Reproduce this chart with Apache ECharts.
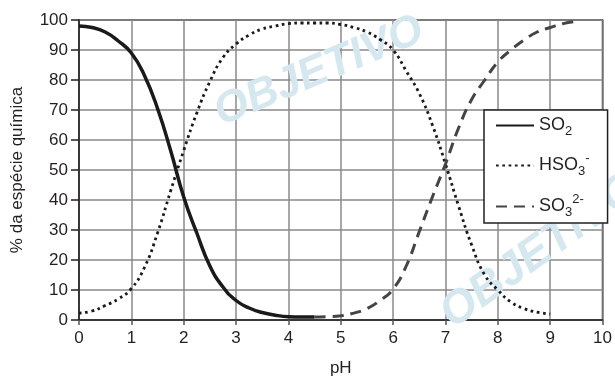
<!doctype html>
<html>
<head>
<meta charset="utf-8">
<title>Espécies de SO2 em função do pH</title>
<script src="https://cdn.jsdelivr.net/npm/echarts@6/dist/echarts.min.js"></script>
<style>
html, body { margin: 0; padding: 0; background: #fff; }
</style>
</head>
<body>
<div id="main" style="width:615px;height:382px;"></div>
<script>
// dados (pH x % da espécie)
var phSO2 = [0, 0.25, 0.5, 0.75, 1, 1.25, 1.5, 1.75, 2, 2.25, 2.5, 2.75, 3, 3.25, 3.5, 3.75, 4, 4.25, 4.5];
var pctSO2 = [98, 97.5, 96, 93, 89, 81.5, 70.5, 56.5, 41, 29, 18, 11, 6.5, 4, 2.5, 1.6, 1.1, 1, 1];

var phHSO3 = [0, 0.25, 0.5, 0.75, 1, 1.25, 1.5, 1.75, 2, 2.25, 2.5, 2.75, 3, 3.25, 3.5, 3.75, 4, 4.25, 4.5,
              4.75, 5, 5.25, 5.5, 5.75, 6, 6.25, 6.5, 6.75, 7, 7.25, 7.5, 7.75, 8, 8.25, 8.5, 8.75, 9];
var pctHSO3 = [2.3, 3, 4.8, 7, 10.5, 17.5, 29, 43, 56.5, 69, 79.5, 87.5, 92, 95, 97, 98, 98.8, 99, 99,
               99, 98.5, 97.5, 96, 93.5, 90, 83, 75.5, 65, 52, 38, 25, 15, 10, 6, 3.8, 2.6, 2];

var phSO3 = [4.5, 4.75, 5, 5.25, 5.5, 5.75, 6, 6.25, 6.5, 6.75, 7, 7.25, 7.5, 7.75, 8, 8.25, 8.5, 8.75, 9, 9.25, 9.5];
var pctSO3 = [1, 1.1, 1.4, 2.3, 3.8, 6.5, 10.3, 18, 29.5, 41, 52, 64, 73.5, 80, 86, 90, 93.3, 96, 97.5, 98.8, 99.5];

var seriesNames = ['SO2', 'HSO3-', 'SO32-'];
var xTicks = [0, 1, 2, 3, 4, 5, 6, 7, 8, 9, 10];

function pares(xs, ys) {
    return xs.map(function (x, i) { return [x, ys[i]]; });
}

var fonte = 'Liberation Sans, Arial, sans-serif';
var corTexto = '#231f20';

var myChart = echarts.init(document.getElementById('main'), null, { renderer: 'canvas' });

var option = {
    animation: false,
    backgroundColor: '#fff',
    textStyle: { fontFamily: fonte },
    grid: {
        left: 79, right: 9, top: 20, bottom: 59,
        show: true, borderColor: '#231f20', borderWidth: 1.5
    },
    graphic: [
        // marca d'água
        {
            type: 'text', left: 208, top: 8, rotation: 0.40, z: 1,
            style: { text: 'OBJETIVO', fill: '#d6e8ef', font: 'bold italic 44px ' + fonte }
        },
        {
            type: 'text', left: 432, top: 165, rotation: 0.62, z: 1,
            style: { text: 'OBJETIVO', fill: '#d6e8ef', font: 'bold italic 46px ' + fonte }
        }
    ],
    legend: {
        orient: 'vertical',
        left: 484, top: 110,
        padding: [3, 18, 3, 11],
        itemGap: 14,
        itemWidth: 38, itemHeight: 14,
        backgroundColor: '#fff',
        borderColor: '#231f20', borderWidth: 1.5,
        itemStyle: { opacity: 0 },
        z: 10,
        data: seriesNames,
        formatter: function (name) {
            if (name === 'SO2') return '{m|SO}{s|2}';
            if (name === 'HSO3-') return '{m|HSO}{s|3}{p|-}';
            return '{m|SO}{s|3}{p|2-}';
        },
        textStyle: {
            color: corTexto,
            fontFamily: fonte,
            rich: {
                m: { fontSize: 18, lineHeight: 28, fontFamily: fonte, color: corTexto },
                s: { fontSize: 13, lineHeight: 16, padding: [12, 0, 0, 0], fontFamily: fonte, color: corTexto },
                p: { fontSize: 13, lineHeight: 14, padding: [0, 0, 14, 0], fontFamily: fonte, color: corTexto }
            }
        }
    },
    xAxis: {
        type: 'value', min: 0, max: 10, interval: 1,
        name: 'pH', nameLocation: 'middle', nameGap: 40,
        nameTextStyle: { fontSize: 17, color: corTexto, fontFamily: fonte },
        axisLine: { lineStyle: { color: '#231f20', width: 1.5 } },
        axisTick: { show: true, length: 5, lineStyle: { color: '#555', width: 1.5 } },
        axisLabel: {
            fontSize: 17, color: corTexto, margin: 10,
            formatter: function (v) { return xTicks.indexOf(v) >= 0 ? String(v) : ''; }
        },
        splitLine: { show: true, lineStyle: { color: '#8a8a8a', width: 1.5 } }
    },
    yAxis: {
        type: 'value', min: 0, max: 100, interval: 10,
        name: '% da espécie química', nameLocation: 'middle', nameGap: 53,
        nameTextStyle: { fontSize: 17, color: corTexto, fontFamily: fonte },
        axisLine: { show: true, lineStyle: { color: '#231f20', width: 1.5 } },
        axisTick: { show: true, length: 8, lineStyle: { color: '#231f20', width: 1.5 } },
        axisLabel: { fontSize: 17, color: corTexto, margin: 11 },
        splitLine: { show: true, lineStyle: { color: '#8a8a8a', width: 1.5 } }
    },
    series: [
        {
            name: 'SO2', type: 'line', smooth: 0.5, symbol: 'none', z: 5,
            data: pares(phSO2, pctSO2),
            lineStyle: { color: '#1a1a1a', width: 3.5, cap: 'butt' },
            itemStyle: { color: '#1a1a1a' }
        },
        {
            name: 'HSO3-', type: 'line', smooth: 0.5, symbol: 'none', z: 5,
            data: pares(phHSO3, pctHSO3),
            lineStyle: { color: '#1a1a1a', width: 2.8, type: [2.7, 3.6], cap: 'butt' },
            itemStyle: { color: '#1a1a1a' }
        },
        {
            name: 'SO32-', type: 'line', smooth: 0.5, symbol: 'none', z: 5,
            data: pares(phSO3, pctSO3),
            lineStyle: { color: '#444', width: 3, type: [11, 7], cap: 'butt' },
            itemStyle: { color: '#444' }
        }
    ]
};

myChart.setOption(option);
</script>
</body>
</html>
